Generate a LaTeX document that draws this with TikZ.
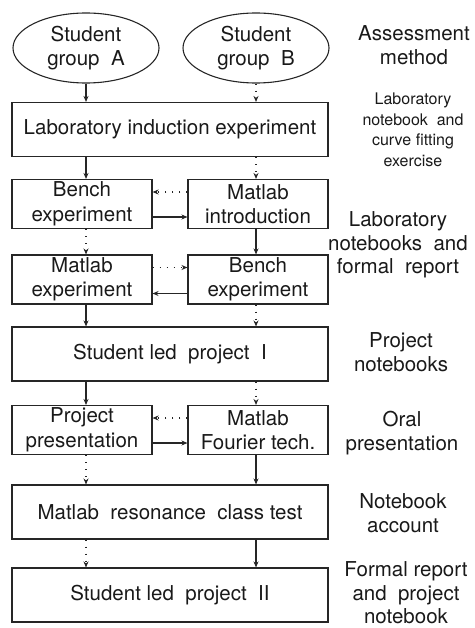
\documentclass[tikz,border=0pt]{standalone}
\usepackage{fontspec}
\setmainfont{TeX Gyre Heros}
\usetikzlibrary{arrows.meta,shapes.geometric}
\begin{document}
\begin{tikzpicture}[x=1pt,y=-1pt,line width=1.1pt,draw=black!85]
	\tikzstyle{every node}+=[inner sep=0pt, align=center, text=black!90, font=\fontsize{20.5}{24.5}\selectfont]
	\tikzstyle{grp}=[draw, ellipse, minimum width=146pt, minimum height=70pt]
	\tikzstyle{wide}=[draw, rectangle, minimum width=316pt, minimum height=54pt]
	\tikzstyle{half}=[draw, rectangle, minimum width=140pt, minimum height=49pt]
	\tikzstyle{flow}=[-{Stealth[length=6pt,width=5pt]}]
	\tikzstyle{opt}=[flow, dash pattern=on 1pt off 6pt]
	\tikzstyle{note}=[font=\fontsize{20.5}{23.5}\selectfont]
	\tikzstyle{small}=[font=\fontsize{16}{20.5}\selectfont]
	\useasboundingbox (0,0) rectangle (474,628);
	% student groups
	\node [grp] (ga) at (86,48) {Student\\group\ \ A};
	\node [grp] (gb) at (256,48) {Student\\group\ \ B};
	% course blocks
	\node [wide] (lab) at (170,129.5) {Laboratory induction experiment};
	\node [half] (bench1) at (82,204) {Bench\\experiment};
	\node [half] (matintro) at (258,204) {Matlab\\introduction};
	\node [half] (matexp) at (82,279.5) {Matlab\\experiment};
	\node [half] (bench2) at (258,279.5) {Bench\\experiment};
	\node [wide] (proj1) at (170,354) {Student led\ \ project\ \ I};
	\node [half] (projpres) at (82,430) {Project\\presentation};
	\node [half] (fourier) at (258,430) {Matlab\\Fourier tech.};
	\node [wide] (reson) at (170,512) {Matlab\ \ resonance\ \ class test};
	\node [wide] (proj2) at (170,595) {Student led\ \ project\ \ II};
	% assessment column
	\node (hdr) at (414,45) {Assessment\\method};
	\node [small] (as1) at (413,130) {Laboratory\\notebook\ \ and\\curve fitting\\exercise};
	\node [note] (as2) at (398,245) {Laboratory\\notebooks\ \ and\\formal\ \ report};
	\node [note] (as3) at (401,352) {Project\\notebooks};
	\node [note] (as4) at (402,433) {Oral\\presentation};
	\node [note] (as5) at (403,513) {Notebook\\account};
	\node [note] (as6) at (406,593) {Formal report\\and\ \ project\\notebook};
	% group A path
	\draw [flow] (ga) -- (lab.north -| ga);
	\draw [flow] (lab.south -| ga) -- (bench1.north -| ga);
	\draw [opt] (bench1.south -| ga) -- (matexp.north -| ga);
	\draw [flow] (matexp.south -| ga) -- (proj1.north -| ga);
	\draw [flow] (proj1.south -| ga) -- (projpres.north -| ga);
	\draw [opt] (projpres.south -| ga) -- (reson.north -| ga);
	\draw [opt] (reson.south -| ga) -- (proj2.north -| ga);
	% group B path
	\draw [opt] (gb) -- (lab.north -| gb);
	\draw [opt] (lab.south -| gb) -- (matintro.north -| gb);
	\draw [flow] (matintro.south -| gb) -- (bench2.north -| gb);
	\draw [opt] (bench2.south -| gb) -- (proj1.north -| gb);
	\draw [opt] (proj1.south -| gb) -- (fourier.north -| gb);
	\draw [flow] (fourier.south -| gb) -- (reson.north -| gb);
	\draw [flow] (reson.south -| gb) -- (proj2.north -| gb);
	% swaps between the groups
	\draw [opt] ([yshift=12pt]matintro.west) -- ([yshift=12pt]bench1.east);
	\draw [flow] ([yshift=-13pt]bench1.east) -- ([yshift=-13pt]matintro.west);
	\draw [opt] ([yshift=12pt]matexp.east) -- ([yshift=12pt]bench2.west);
	\draw [flow] ([yshift=-14pt]bench2.west) -- ([yshift=-14pt]matexp.east);
	\draw [opt] ([yshift=12pt]fourier.west) -- ([yshift=12pt]projpres.east);
	\draw [flow] ([yshift=-13pt]projpres.east) -- ([yshift=-13pt]fourier.west);
\end{tikzpicture}
\end{document}
